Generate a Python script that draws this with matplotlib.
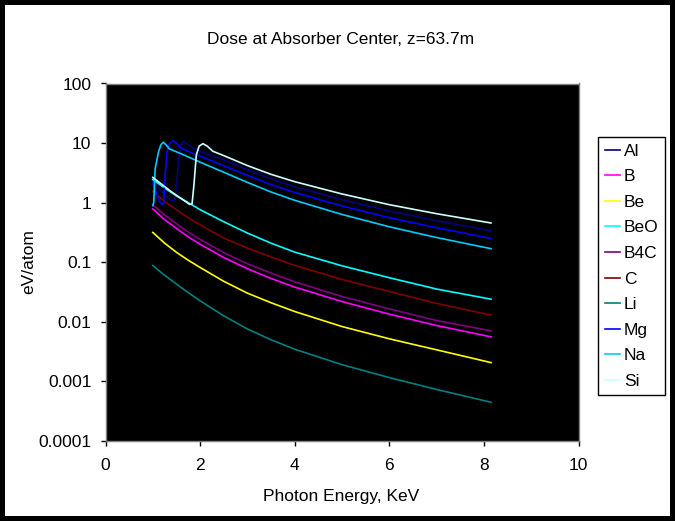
import matplotlib
matplotlib.use("Agg")
import matplotlib.pyplot as plt
from matplotlib.patches import Rectangle
from matplotlib.ticker import FixedLocator, FixedFormatter, NullLocator

plt.rcParams['font.family'] = ['Liberation Sans', 'DejaVu Sans']

# Photon energy grid (keV) for the materials without an absorption edge in range
energy = [1.0, 1.25, 1.5, 1.75, 2.0, 2.5, 3.0, 3.5, 4.0, 5.0, 6.0, 7.0, 8.15]

# Dose, eV/atom
dose_b = [0.783, 0.519, 0.370, 0.266, 0.201, 0.120, 0.0778, 0.0535, 0.0383,
          0.0219, 0.01346, 0.00867, 0.0056]
dose_be = [0.317, 0.209, 0.147, 0.108, 0.0818, 0.0479, 0.0303, 0.0209, 0.0149,
           0.00834, 0.00519, 0.00339, 0.00207]
dose_beo = [2.45, 1.76, 1.30, 1.0, 0.762, 0.479, 0.309, 0.209, 0.148,
            0.0871, 0.0550, 0.0355, 0.0240]
dose_b4c = [0.925, 0.624, 0.444, 0.320, 0.2415, 0.145, 0.0944, 0.0658, 0.0470,
            0.0266, 0.01652, 0.01052, 0.00706]
dose_c = [1.549, 1.047, 0.762, 0.556, 0.427, 0.2547, 0.173, 0.1222, 0.0885,
          0.0513, 0.0324, 0.0204, 0.01297]
dose_li = [0.0883, 0.0603, 0.0431, 0.0309, 0.02254, 0.0126, 0.00759, 0.00501,
           0.00347, 0.00191, 0.00116, 0.000733, 0.000447]

# Materials with a K edge inside the energy range, sampled more finely near the edge
energy_na = [1.0, 1.02, 1.05, 1.12, 1.17, 1.22, 1.27, 1.35, 1.6, 2.0, 2.5, 3.0,
             3.5, 4.0, 5.0, 6.0, 7.0, 8.15]
dose_na = [0.891, 1.0, 3.72, 7.08, 9.33, 10.3, 9.55, 8.0, 6.61, 4.79, 3.24, 2.19,
           1.51, 1.096, 0.634, 0.394, 0.260, 0.169]

energy_mg = [1.0, 1.05, 1.1, 1.15, 1.2, 1.23, 1.26, 1.3, 1.35, 1.42, 1.5, 1.58,
             1.75, 2.0, 2.5, 3.0, 3.5, 4.0, 5.0, 6.0, 7.0, 8.15]
dose_mg = [2.14, 1.66, 1.26, 1.02, 0.933, 1.0, 2.82, 7.08, 9.77, 10.96, 10.0, 8.51,
           7.24, 6.03, 4.17, 2.88, 2.01, 1.48, 0.883, 0.560, 0.380, 0.251]

energy_al = [1.0, 1.1, 1.2, 1.3, 1.4, 1.46, 1.5, 1.54, 1.58, 1.64, 1.7, 1.8,
             2.0, 2.5, 3.0, 3.5, 4.0, 5.0, 6.0, 7.0, 8.15]
dose_al = [2.34, 1.86, 1.51, 1.26, 1.07, 1.07, 1.78, 5.01, 8.51, 10.7, 10.0, 8.71,
           7.24, 5.25, 3.55, 2.51, 1.85, 1.12, 0.724, 0.498, 0.338]

energy_si = [1.0, 1.2, 1.4, 1.6, 1.78, 1.83, 1.87, 1.92, 1.98, 2.06, 2.15, 2.27,
             2.5, 3.0, 3.5, 4.0, 5.0, 6.0, 7.0, 8.15]
dose_si = [2.66, 2.0, 1.51, 1.175, 0.933, 0.955, 2.0, 6.31, 8.91, 9.77, 8.91, 7.28,
           6.17, 4.19, 2.99, 2.25, 1.40, 0.925, 0.653, 0.456]

series = [
    ("Al", energy_al, dose_al, "#000080"),
    ("B", energy, dose_b, "#FF00FF"),
    ("Be", energy, dose_be, "#FFFF00"),
    ("BeO", energy, dose_beo, "#00FFFF"),
    ("B4C", energy, dose_b4c, "#800080"),
    ("C", energy, dose_c, "#800000"),
    ("Li", energy, dose_li, "#008080"),
    ("Mg", energy_mg, dose_mg, "#0000FF"),
    ("Na", energy_na, dose_na, "#00CCFF"),
    ("Si", energy_si, dose_si, "#CCFFFF"),
]

x_ticks = [0, 2, 4, 6, 8, 10]
y_ticks = [0.0001, 0.001, 0.01, 0.1, 1, 10, 100]
y_tick_labels = ["0.0001", "0.001", "0.01", "0.1", "1", "10", "100"]

W, H = 675, 521
fig = plt.figure(figsize=(W / 100, H / 100), dpi=100)
fig.patch.set_facecolor("white")

ax = fig.add_axes([105.5 / W, 1 - 441 / H, 473 / W, (441 - 83.5) / H])
ax.set_facecolor("black")

for name, xs, ys, col in series:
    ax.plot(xs, ys, color=col, lw=1.2, label=name, solid_joinstyle="round")

ax.set_yscale("log")
ax.set_xlim(0, 10)
ax.set_ylim(1e-4, 100)
ax.xaxis.set_major_locator(FixedLocator(x_ticks))
ax.xaxis.set_major_formatter(FixedFormatter([str(t) for t in x_ticks]))
ax.yaxis.set_major_locator(FixedLocator(y_ticks))
ax.yaxis.set_major_formatter(FixedFormatter(y_tick_labels))
ax.yaxis.set_minor_locator(NullLocator())
ax.xaxis.set_minor_locator(NullLocator())

for sp in ax.spines.values():
    sp.set_color("#808080")
    sp.set_linewidth(1.0)

fs = 12.5
ax.tick_params(axis="both", direction="out", length=3.6, width=1.0,
               color="black", labelsize=fs, labelcolor="black")
ax.tick_params(axis="x", pad=9)
ax.tick_params(axis="y", pad=6.5)

fig.text(340.5 / W, 1 - 40 / H, "Dose at Absorber Center, z=63.7m",
         ha="center", va="center", fontsize=fs)
fig.text(341 / W, 1 - 496 / H, "Photon Energy, KeV",
         ha="center", va="center", fontsize=fs)
fig.text(29 / W, 1 - 262 / H, "eV/atom", rotation=90,
         ha="center", va="center", fontsize=fs)

leg = ax.legend(loc="upper left", bbox_to_anchor=(598 / W, 1 - 137 / H),
                bbox_transform=fig.transFigure, borderaxespad=0,
                fontsize=fs, frameon=True, fancybox=False, framealpha=1,
                edgecolor="black", handlelength=0.9, handletextpad=0.22,
                labelspacing=0.6, borderpad=0.38)
leg.get_frame().set_linewidth(1.0)
for ln in leg.get_lines():
    ln.set_linewidth(1.2)

# outer frame around the whole chart
fig.patches.append(Rectangle((0, 0), 1, 1, transform=fig.transFigure,
                             fill=False, edgecolor="black", linewidth=7.2,
                             zorder=10))

fig.savefig("out.png", dpi=100, facecolor="white")
